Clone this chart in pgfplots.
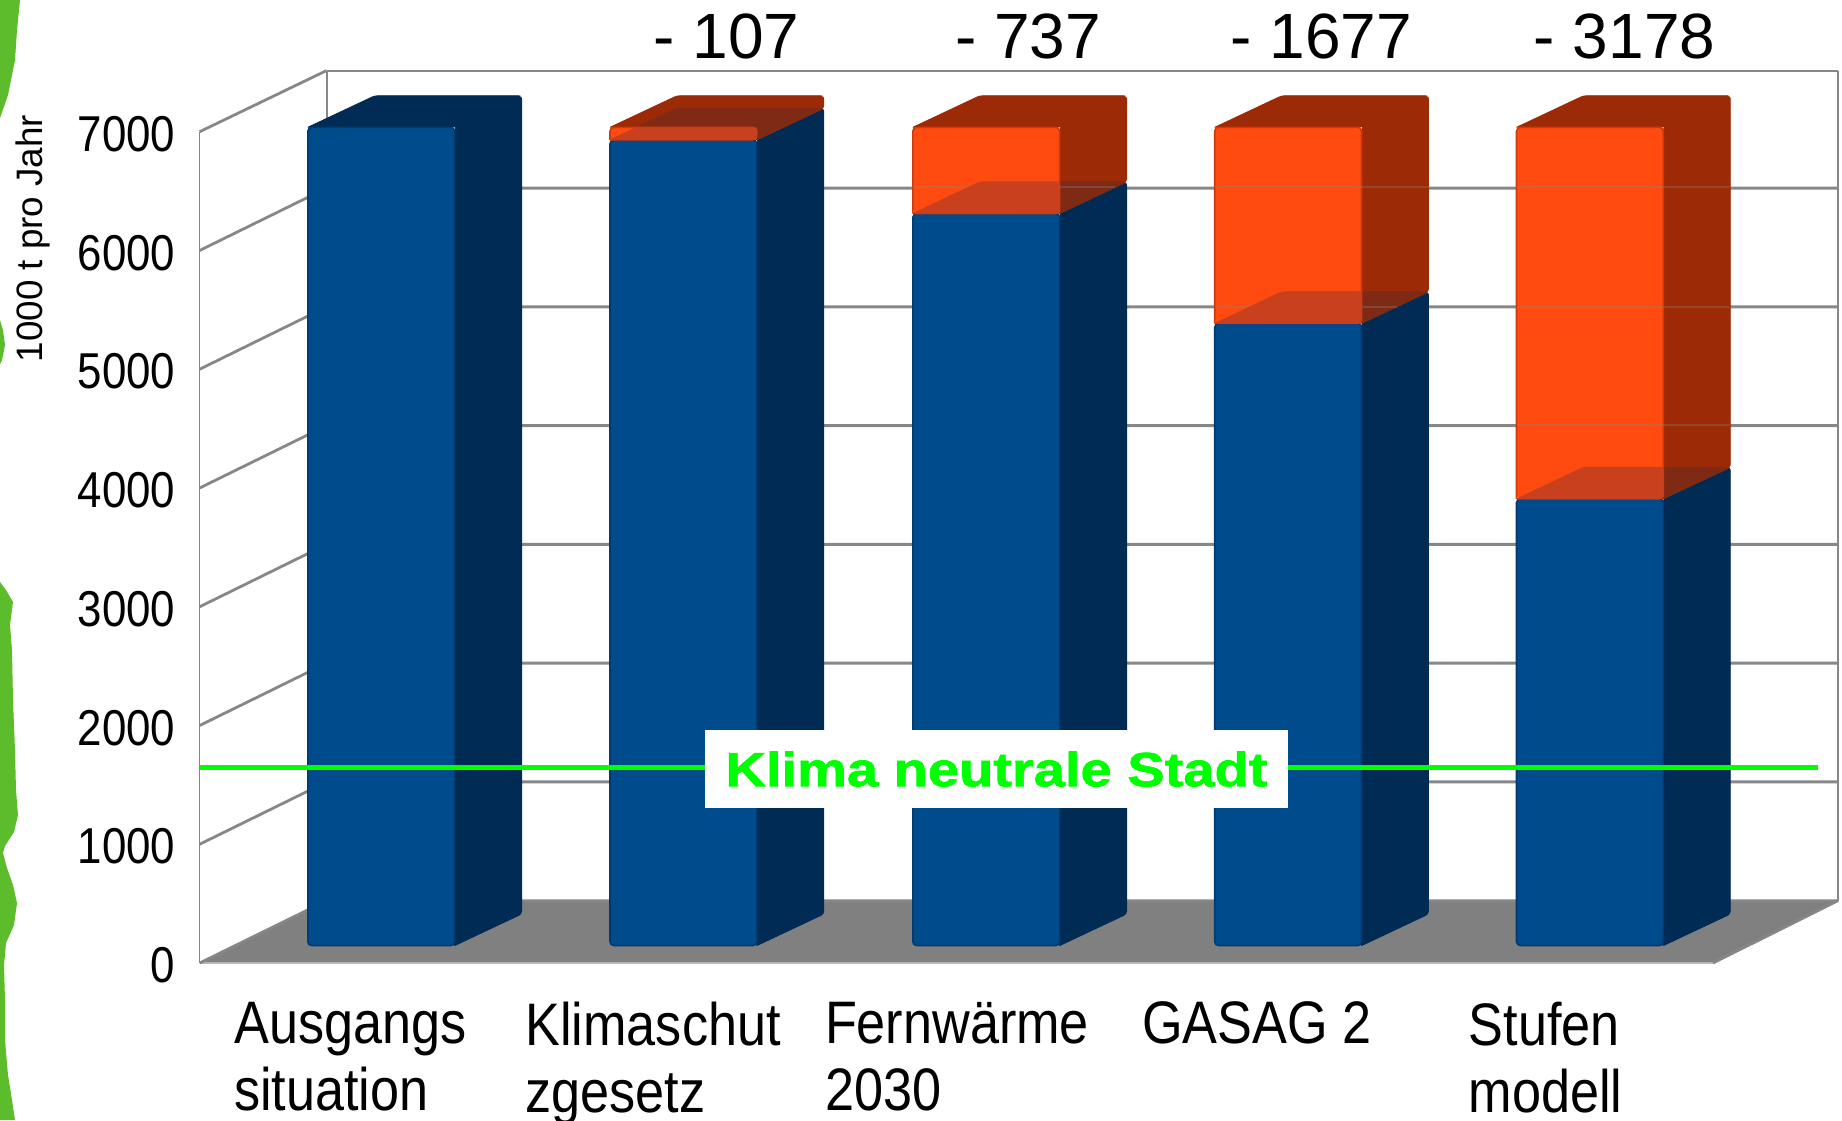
\documentclass[border=0pt]{standalone}
\usepackage{fontspec}
\usepackage{pgfplots}
\pgfplotsset{compat=1.18}
\setmainfont{Liberation Sans}
\newfontfamily\narrowfont[FakeStretch=0.87]{Liberation Sans}
\newfontfamily\wideboldfont[FakeStretch=1.168,FakeBold=1.4]{Liberation Sans Bold}
\definecolor{bluefront}{RGB}{0,75,140}
\definecolor{blueside}{RGB}{0,43,85}
\definecolor{blueedge}{RGB}{0,58,110}
\definecolor{orangefront}{RGB}{255,74,16}
\definecolor{orangeside}{RGB}{156,42,7}
\definecolor{orangeedge}{RGB}{205,58,12}
\definecolor{innerlight}{RGB}{200,64,30}
\definecolor{innerdark}{RGB}{126,42,20}
\definecolor{wallgrey}{RGB}{135,135,135}
\definecolor{floorgrey}{RGB}{128,128,128}
\definecolor{tornedge}{RGB}{92,188,43}
\definecolor{neutral}{RGB}{0,255,0}
\pgfplotsset{
  wall/.style={no markers,draw=wallgrey,line width=1.4pt},
  solidface/.style={no markers,sharp plot,stack plots=false,draw=#1,line width=0.4pt,fill=#1,rounded corners=1.5pt},
}
\begin{document}
\begin{tikzpicture}
\path[use as bounding box] (0,0) rectangle (921pt,560pt);

% Torn green paper along the left edge, in page units
\begin{axis}[at={(0pt,0pt)},anchor=south west,scale only axis,width=921pt,height=560pt,
  xmin=0,xmax=1842,ymin=0,ymax=1120,y dir=reverse,hide axis,clip=true]
\addplot[no markers,draw=none,fill=tornedge] coordinates {
  (0,0) (20,0) (17,30) (15,60) (8,95) (0,118) (0,0)};
\addplot[no markers,draw=none,fill=tornedge] coordinates {
  (0,320) (3,330) (5,345) (2,360) (0,364) (0,320)};
\addplot[no markers,draw=none,fill=tornedge] coordinates {
  (0,582) (6,590) (13,602) (10,625) (12,650) (13,700) (15,750) (16,790) (18,815)
  (14,832) (5,846) (3,853) (7,868) (13,885) (17,903) (14,925) (6,943) (4,965)
  (5,1000) (5,1040) (8,1075) (12,1100) (15,1120) (0,1120) (0,582)};
\end{axis}

% Value axis with the walls, the floor and the grid of the box
\begin{axis}[at={(99.85pt,78.5pt)},anchor=south west,scale only axis,
  width=756.65pt,height=415.65pt,xmin=199.7,xmax=1713,ymin=0,ymax=7000,
  axis line style={draw=none},tick style={draw=none},clip=false,
  axis x line*=bottom,axis y line*=left,
  ytick={0,1000,...,7000},
  xtick={233.8,525,824.6,1141.8,1468.4},
  xticklabels={{Ausgangs\\situation},{Klimaschut\\zgesetz},{Fernwärme\\2030},{GASAG 2},{Stufen\\modell}},
  major tick length=0pt,
  /pgf/number format/assume math mode=true,
  /pgf/number format/1000 sep={},
  yticklabel style={font=\narrowfont\fontsize{25.2}{30}\selectfont,anchor=east,inner sep=0pt,xshift=-12pt,yshift=-1.2pt},
  xticklabel style={font=\narrowfont\fontsize{30}{33.5}\selectfont,align=left,anchor=north west,inner sep=0pt,yshift=-19.3pt},
]
\addplot[no markers,draw=none,fill=floorgrey] coordinates {
  (199.7,0) (326.6,525) (1838,525) (1713,0) (199.7,0)};
\addplot[no markers,draw=wallgrey!60,line width=0.8pt] coordinates {(199.7,0) (1713,0)};
\addplot[no markers,draw=wallgrey,line width=0.8pt] coordinates {(199.7,0) (199.7,7000)};
\addplot[no markers,draw=wallgrey,line width=1pt] coordinates {(326.6,525) (326.6,7515)};
\addplot[no markers,draw=wallgrey,line width=1.4pt] coordinates {(1838,525) (1838,7515)};
\addplot[no markers,draw=wallgrey,line width=1pt] coordinates {(326.6,7515) (1838,7515)};
\addplot[wall] coordinates {(199.7,0) (326.6,525) (1838,525)};
\addplot[wall] coordinates {(1713,0) (1838,525)};
\addplot[wall] coordinates {(199.7,1000) (326.6,1525) (1838,1525)};
\addplot[wall] coordinates {(199.7,2000) (326.6,2525) (1838,2525)};
\addplot[wall] coordinates {(199.7,3000) (326.6,3525) (1838,3525)};
\addplot[wall] coordinates {(199.7,4000) (326.6,4525) (1838,4525)};
\addplot[wall] coordinates {(199.7,5000) (326.6,5525) (1838,5525)};
\addplot[wall] coordinates {(199.7,6000) (326.6,6525) (1838,6525)};
\addplot[wall] coordinates {(199.7,7000) (326.6,7515)};
\node[font=\fontsize{18.4}{20}\selectfont,rotate=90,inner sep=0pt,anchor=center]
  at (axis cs:33,6100) {1000 t pro Jahr};
\end{axis}

% The stacked columns: side and top faces, front faces, then what shows through the orange
\begin{axis}[at={(0pt,0pt)},anchor=south west,scale only axis,width=921pt,height=560pt,
  xmin=0,xmax=1842,ymin=-1491.9,ymax=8089.2,hide axis,clip=false,
  ybar stacked,reverse stacked plots=false,bar width=146.8]
% blue side faces
\addplot[solidface=blueside] coordinates {(454.6,0) (521.6,270) (521.6,7270) (454.6,7000) (454.6,0)};
\addplot[solidface=blueside] coordinates {(756.8,0) (823.8,270) (823.8,7163) (756.8,6893) (756.8,0)};
\addplot[solidface=blueside] coordinates {(1059.6,0) (1126.6,270) (1126.6,6533) (1059.6,6263) (1059.6,0)};
\addplot[solidface=blueside] coordinates {(1361.5,0) (1428.5,270) (1428.5,5593) (1361.5,5323) (1361.5,0)};
\addplot[solidface=blueside] coordinates {(1663.3,0) (1730.3,270) (1730.3,4092) (1663.3,3822) (1663.3,0)};
% blue top of the first column
\addplot[solidface=blueside] coordinates {(307.8,7000) (374.8,7270) (521.6,7270) (454.6,7000) (307.8,7000)};
% orange side faces
\addplot[solidface=orangeside] coordinates {(756.8,6893) (823.8,7163) (823.8,7270) (756.8,7000) (756.8,6893)};
\addplot[solidface=orangeside] coordinates {(1059.6,6263) (1126.6,6533) (1126.6,7270) (1059.6,7000) (1059.6,6263)};
\addplot[solidface=orangeside] coordinates {(1361.5,5323) (1428.5,5593) (1428.5,7270) (1361.5,7000) (1361.5,5323)};
\addplot[solidface=orangeside] coordinates {(1663.3,3822) (1730.3,4092) (1730.3,7270) (1663.3,7000) (1663.3,3822)};
% orange top faces
\addplot[solidface=orangeside] coordinates {(610,7000) (677,7270) (823.8,7270) (756.8,7000) (610,7000)};
\addplot[solidface=orangeside] coordinates {(912.8,7000) (979.8,7270) (1126.6,7270) (1059.6,7000) (912.8,7000)};
\addplot[solidface=orangeside] coordinates {(1214.7,7000) (1281.7,7270) (1428.5,7270) (1361.5,7000) (1214.7,7000)};
\addplot[solidface=orangeside] coordinates {(1516.5,7000) (1583.5,7270) (1730.3,7270) (1663.3,7000) (1516.5,7000)};
% blue top seen through the orange, darker part
\addplot[solidface=innerdark] coordinates {(610,6893) (677,7163) (823.8,7163) (756.8,6893) (610,6893)};
\addplot[solidface=innerdark] coordinates {(912.8,6263) (979.8,6533) (1126.6,6533) (1059.6,6263) (912.8,6263)};
\addplot[solidface=innerdark] coordinates {(1214.7,5323) (1281.7,5593) (1428.5,5593) (1361.5,5323) (1214.7,5323)};
\addplot[solidface=innerdark] coordinates {(1516.5,3822) (1583.5,4092) (1730.3,4092) (1663.3,3822) (1516.5,3822)};
% front faces
\addplot[ybar stacked,bar shift=0pt,fill=bluefront,draw=blueedge,line width=0.8pt,rounded corners=2pt]
  coordinates {(381.2,7000) (683.4,6893) (986.2,6263) (1288.1,5323) (1589.9,3822)};
\addplot[ybar stacked,bar shift=0pt,fill=orangefront,draw=none,rounded corners=2pt]
  coordinates {(381.2,0) (683.4,107) (986.2,737) (1288.1,1677) (1589.9,3178)};
% outlines of the orange fronts
\addplot[no markers,sharp plot,stack plots=false,draw=orangeedge,line width=0.8pt,rounded corners=2pt] coordinates {(610,6893) (610,7000) (756.8,7000) (756.8,6893) (610,6893)};
\addplot[no markers,sharp plot,stack plots=false,draw=orangeedge,line width=0.8pt,rounded corners=2pt] coordinates {(912.8,6263) (912.8,7000) (1059.6,7000) (1059.6,6263) (912.8,6263)};
\addplot[no markers,sharp plot,stack plots=false,draw=orangeedge,line width=0.8pt,rounded corners=2pt] coordinates {(1214.7,5323) (1214.7,7000) (1361.5,7000) (1361.5,5323) (1214.7,5323)};
\addplot[no markers,sharp plot,stack plots=false,draw=orangeedge,line width=0.8pt,rounded corners=2pt] coordinates {(1516.5,3822) (1516.5,7000) (1663.3,7000) (1663.3,3822) (1516.5,3822)};
% grid lines faintly visible through the orange
\addplot[no markers,sharp plot,stack plots=false,draw=wallgrey,opacity=0.3,line width=1pt] coordinates {(912.8,6489) (1115,6489)};
\addplot[no markers,sharp plot,stack plots=false,draw=wallgrey,opacity=0.3,line width=1pt] coordinates {(1214.7,6489) (1428.5,6489)};
\addplot[no markers,sharp plot,stack plots=false,draw=wallgrey,opacity=0.3,line width=1pt] coordinates {(1214.7,5466) (1397,5466)};
\addplot[no markers,sharp plot,stack plots=false,draw=wallgrey,opacity=0.3,line width=1pt] coordinates {(1516.5,6489) (1730.3,6489)};
\addplot[no markers,sharp plot,stack plots=false,draw=wallgrey,opacity=0.3,line width=1pt] coordinates {(1516.5,5466) (1730.3,5466)};
\addplot[no markers,sharp plot,stack plots=false,draw=wallgrey,opacity=0.3,line width=1pt] coordinates {(1516.5,4453) (1730.3,4453)};
% blue top seen through the orange fronts
\addplot[solidface=innerlight] coordinates {(610,6893) (636.6,7000) (756.8,7000) (756.8,6893) (610,6893)};
\addplot[solidface=innerlight] coordinates {(914,6266) (979.8,6533) (1059.6,6533) (1059.6,6263) (914,6266)};
\addplot[solidface=innerlight] coordinates {(1216,5326) (1281.7,5593) (1361.5,5593) (1361.5,5323) (1216,5326)};
\addplot[solidface=innerlight] coordinates {(1518,3825) (1583.5,4092) (1663.3,4092) (1663.3,3822) (1518,3825)};
\node[font=\fontsize{32}{34}\selectfont] at (axis cs:726.5,7781) {- 107};
\node[font=\fontsize{32}{34}\selectfont] at (axis cs:1028,7781) {- 737};
\node[font=\fontsize{32}{34}\selectfont] at (axis cs:1321.5,7781) {- 1677};
\node[font=\fontsize{32}{34}\selectfont] at (axis cs:1624.6,7781) {- 3178};
\end{axis}

% Target line of the climate-neutral city, on top of the columns
\begin{axis}[at={(99.85pt,78.5pt)},anchor=south west,scale only axis,
  width=756.65pt,height=415.65pt,xmin=199.7,xmax=1713,ymin=0,ymax=7000,
  hide axis,clip=false]
\addplot[no markers,draw=neutral,line width=2.5pt] coordinates {(199.7,1645) (1818,1645)};
\node[fill=white,minimum width=291.5pt,minimum height=38.8pt,inner sep=0pt,
  text=neutral,font=\wideboldfont\fontsize{24}{26}\selectfont]
  at (axis cs:996.5,1633) {Klima neutrale Stadt};
\end{axis}
\end{tikzpicture}
\end{document}
